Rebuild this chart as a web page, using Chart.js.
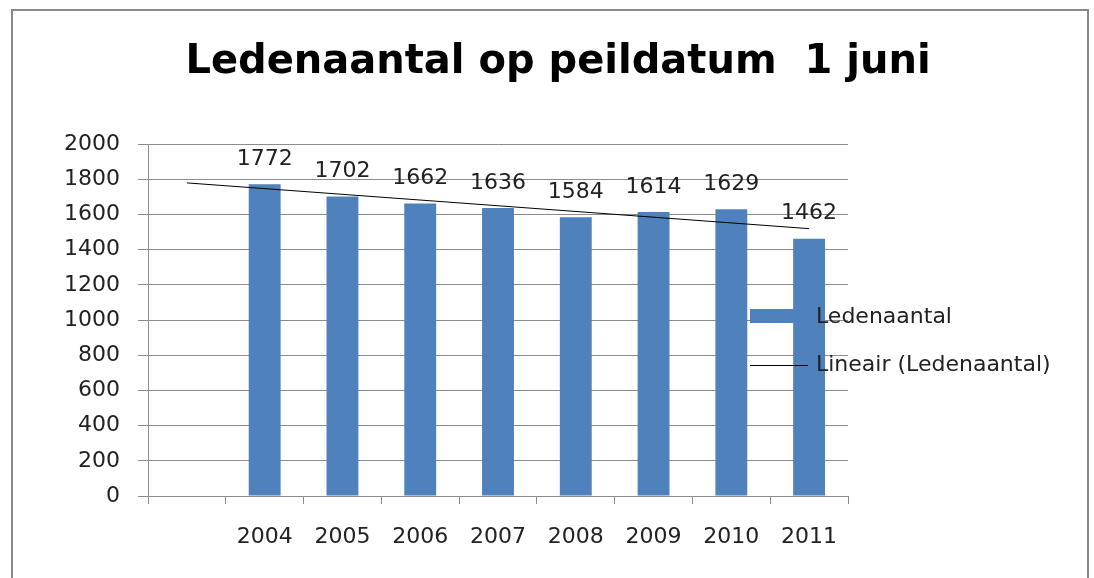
<!DOCTYPE html>
<html>
<head>
<meta charset="utf-8">
<script src="https://cdn.jsdelivr.net/npm/chart.js@4"></script>
<style>
  html, body { margin: 0; padding: 0; background: #fff; }
  #wrap { width: 1094px; height: 578px; }
</style>
</head>
<body>
<div id="wrap"><canvas id="chart"></canvas></div>
<script>
// Data
const years = ['', '2004', '2005', '2006', '2007', '2008', '2009', '2010', '2011'];
const members = [null, 1772, 1702, 1662, 1636, 1584, 1614, 1629, 1462];
// Trendline end points as drawn (first and last category)
const trend = [1779, null, null, null, null, null, null, null, 1519];
const yMin = 0;
const yMax = 2000;
const yStep = 200;
const titleText = 'Ledenaantal op peildatum  1 juni';

const barColor = '#4F81BD';
const gridColor = '#8C8C8C';
const textFont = { family: 'DejaVu Sans', size: 22 };

// Outer frame and the title, centred on the whole chart object
const framePlugin = {
  id: 'frame',
  beforeDraw(chart) {
    const ctx = chart.ctx;
    ctx.save();
    ctx.fillStyle = '#fff';
    ctx.fillRect(0, 0, chart.width, chart.height);
    ctx.strokeStyle = '#898989';
    ctx.lineWidth = 2;
    ctx.strokeRect(12, 10, 1076, 620);

    ctx.fillStyle = '#000';
    ctx.font = 'bold 40px DejaVu Sans';
    ctx.textAlign = 'center';
    ctx.textBaseline = 'middle';
    ctx.fillText(titleText, 558, 63);
    ctx.restore();
  }
};

// Value labels above the bars
const valueLabels = {
  id: 'valueLabels',
  afterDatasetsDraw(chart) {
    const ctx = chart.ctx;
    const meta = chart.getDatasetMeta(0);
    ctx.save();
    ctx.font = textFont.size + 'px ' + textFont.family;
    ctx.fillStyle = '#222';
    ctx.textAlign = 'center';
    ctx.textBaseline = 'bottom';
    meta.data.forEach((bar, i) => {
      const v = members[i];
      if (v == null) return;
      ctx.fillText(String(v), bar.x, bar.y - 14);
    });
    ctx.restore();
  }
};

// Legend drawn over the right side of the plot, like the original
const sideLegend = {
  id: 'sideLegend',
  afterDraw(chart) {
    const ctx = chart.ctx;
    const ds = chart.data.datasets;
    ctx.save();
    ctx.font = textFont.size + 'px ' + textFont.family;
    ctx.textAlign = 'left';
    ctx.textBaseline = 'middle';

    ctx.fillStyle = ds[0].backgroundColor;
    ctx.fillRect(750, 309, 60, 14);
    ctx.fillStyle = '#222';
    ctx.fillText(ds[0].label, 816, 317);

    ctx.strokeStyle = ds[1].borderColor;
    ctx.lineWidth = 1;
    ctx.beginPath();
    ctx.moveTo(750, 365.5);
    ctx.lineTo(808, 365.5);
    ctx.stroke();
    ctx.fillText(ds[1].label, 816, 365);
    ctx.restore();
  }
};

new Chart(document.getElementById('chart'), {
  data: {
    labels: years,
    datasets: [
      {
        type: 'bar',
        label: 'Ledenaantal',
        data: members,
        backgroundColor: barColor,
        barPercentage: 0.41,
        categoryPercentage: 1.0,
        order: 2
      },
      {
        type: 'line',
        label: 'Lineair (Ledenaantal)',
        data: trend,
        borderColor: '#000',
        borderWidth: 1,
        pointRadius: 0,
        spanGaps: true,
        fill: false,
        order: 1
      }
    ]
  },
  options: {
    responsive: true,
    maintainAspectRatio: false,
    animation: false,
    layout: { padding: { left: 0, right: 246, top: 144, bottom: 0 } },
    plugins: {
      legend: { display: false },
      tooltip: { enabled: false },
      title: { display: false }
    },
    scales: {
      x: {
        offset: true,
        grid: {
          offset: true,
          drawOnChartArea: false,
          drawTicks: true,
          tickLength: 8,
          color: gridColor
        },
        border: { display: true, color: gridColor, width: 1 },
        ticks: { color: '#222', font: textFont, padding: 20, maxRotation: 0, autoSkip: false },
        afterFit(scale) { scale.height = 82; }
      },
      y: {
        min: yMin,
        max: yMax,
        ticks: {
          stepSize: yStep,
          color: '#222',
          font: textFont,
          padding: 18,
          callback: v => String(v)
        },
        grid: { color: gridColor, tickLength: 10 },
        border: { display: true, color: gridColor, width: 1 },
        afterFit(scale) { scale.width = 148; }
      }
    }
  },
  plugins: [framePlugin, valueLabels, sideLegend]
});
</script>
</body>
</html>
